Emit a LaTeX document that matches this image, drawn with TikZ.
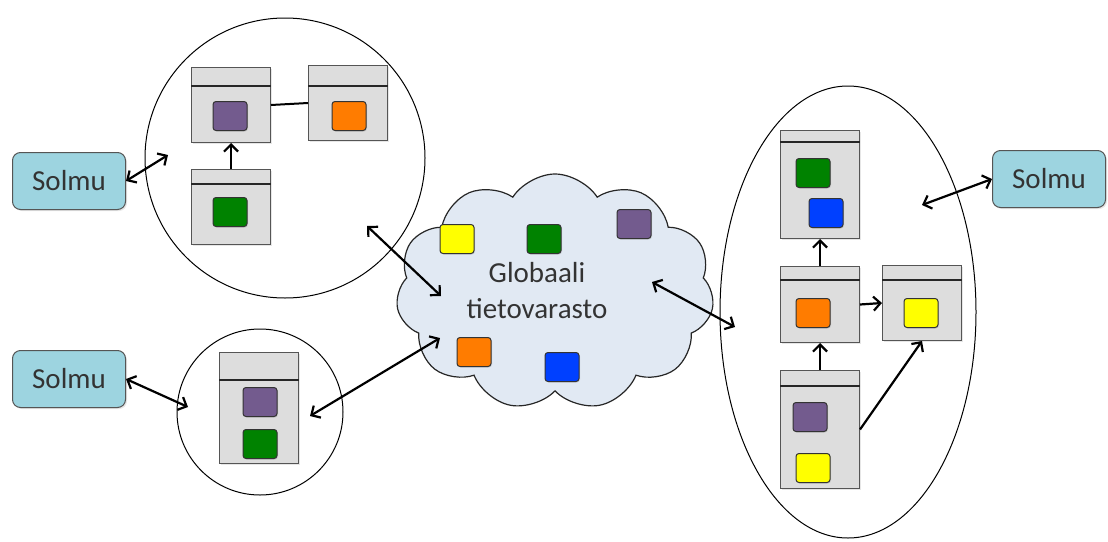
\documentclass[tikz,border=0pt]{standalone}
\usepackage{fontspec}
\setmainfont{Carlito}
\usepackage{tikz}
\usetikzlibrary{arrows.meta, positioning, shapes.geometric, shapes.symbols, shadows}
\definecolor{NodeBlue}{HTML}{9DD4E0}
\definecolor{CloudBlue}{HTML}{E1E9F3}
\definecolor{BoxGray}{HTML}{DDDDDD}
\definecolor{EdgeGray}{HTML}{555555}
\definecolor{TextGray}{HTML}{333333}
\definecolor{Purple}{HTML}{735B8E}
\definecolor{Orange}{HTML}{FF7C00}
\definecolor{Green}{HTML}{008200}
\definecolor{Blue}{HTML}{0040FF}
\definecolor{Yellow}{HTML}{FFFF00}

\tikzset{
  solmu/.style={draw=EdgeGray, fill=NodeBlue, rounded corners=8pt, line width=1pt,
    minimum width=113pt, minimum height=57pt, text=TextGray,
    font=\fontsize{29}{34}\selectfont,
    drop shadow={opacity=0.2, shadow xshift=1.5pt, shadow yshift=-1.5pt}},
  tbl/.style={draw=EdgeGray, fill=BoxGray, line width=1pt, anchor=north west,
    minimum width=79pt, inner sep=0pt,
    drop shadow={opacity=0.2, shadow xshift=1.5pt, shadow yshift=-1.5pt}},
  item/.style={draw=black!80, rounded corners=3pt, line width=1pt,
    minimum width=34pt, minimum height=29pt, inner sep=0pt,
    drop shadow={opacity=0.25, shadow xshift=1pt, shadow yshift=-1pt}},
  link/.style={line width=2.2pt, -{Straight Barb[length=7pt, width=14pt]}},
  both/.style={line width=2.2pt, {Straight Barb[length=7pt, width=14pt]}-{Straight Barb[length=7pt, width=14pt]}}
}

\begin{document}
\begin{tikzpicture}[x=1pt, y=-1pt]
  \useasboundingbox (0,0) rectangle (1108,541);

  % groups
  \node[draw, circle, line width=1pt, minimum size=280pt] (c1) at (285,158) {};
  \node[draw, circle, line width=1pt, minimum size=166pt] (c2) at (260,412) {};
  \node[draw, ellipse, line width=1pt, minimum width=256pt, minimum height=452pt] (ell) at (848,312) {};
  \node[draw=black!85, fill=CloudBlue, cloud, cloud puffs=11, cloud puff arc=115, aspect=1.4,
        line width=1.2pt, minimum width=318pt, minimum height=236pt] (store) at (555,292) {};
  \node[align=center, text=TextGray, font=\fontsize{29}{36}\selectfont] (lbl) at (537,291) {Globaali\\tietovarasto};

  % tables: name/x/y/height/header
  \foreach \n/\x/\y/\h/\hd in {
    A/191/67/75/19, B/308/65/75/21, C/191/169/75/15, D/219/352/111/28,
    E/780/130/108/12, F/780/266/76/14, G/882/265/75/15, H/780/370/118/16}{
    \node[tbl, minimum height=\h pt] (\n) at (\x,\y) {};
    \draw[line width=2pt, black!85] ([yshift=-\hd pt]\n.north west) -- ([yshift=-\hd pt]\n.north east);
  }

  % data items
  \foreach \n/\c/\x/\y in {
    a1/Purple/230/116, b1/Orange/349/116, c1i/Green/230/212,
    d1/Purple/260/402, d2/Green/260/444,
    g1/Yellow/457/239, g2/Green/544/239, g3/Purple/634/224,
    g4/Orange/474/352, g5/Blue/562/367,
    e1/Green/813/173, e2/Blue/826/213, f1/Orange/813/313,
    h1/Yellow/921/313, p1/Purple/810/417, p2/Yellow/813/468}{
    \node[item, fill=\c] (\n) at (\x,\y) {};
  }

  % nodes
  \node[solmu] (s1) at (69,181) {Solmu};
  \node[solmu] (s2) at (69,379) {Solmu};
  \node[solmu] (s3) at (1049,179) {Solmu};

  % connector ends
  \coordinate (k1) at (168,155);
  \coordinate (k2) at (188,407);
  \coordinate (k3) at (922,205);
  \coordinate (u1) at (367,226);
  \coordinate (u2) at (441,296);
  \coordinate (v1) at (310,416);
  \coordinate (v2) at (440,338);
  \coordinate (w1) at (652,282);
  \coordinate (w2) at (735,327);

  % links
  \draw[line width=2pt] (A.east) -- (B.west);
  \draw[link] (C.north) -- (A.south);
  \draw[link] (F.north) -- (E.south);
  \draw[link] (H.north) -- (F.south);
  \draw[link] (F.east) -- (G.west);
  \draw[link] (H.east) -- (G.south);

  \draw[both] (s1.east) -- (k1);
  \draw[both] (s2.east) -- (k2);
  \draw[both] (s3.west) -- (k3);
  \draw[both] (u1) -- (u2);
  \draw[both] (v1) -- (v2);
  \draw[both] (w1) -- (w2);
\end{tikzpicture}
\end{document}
